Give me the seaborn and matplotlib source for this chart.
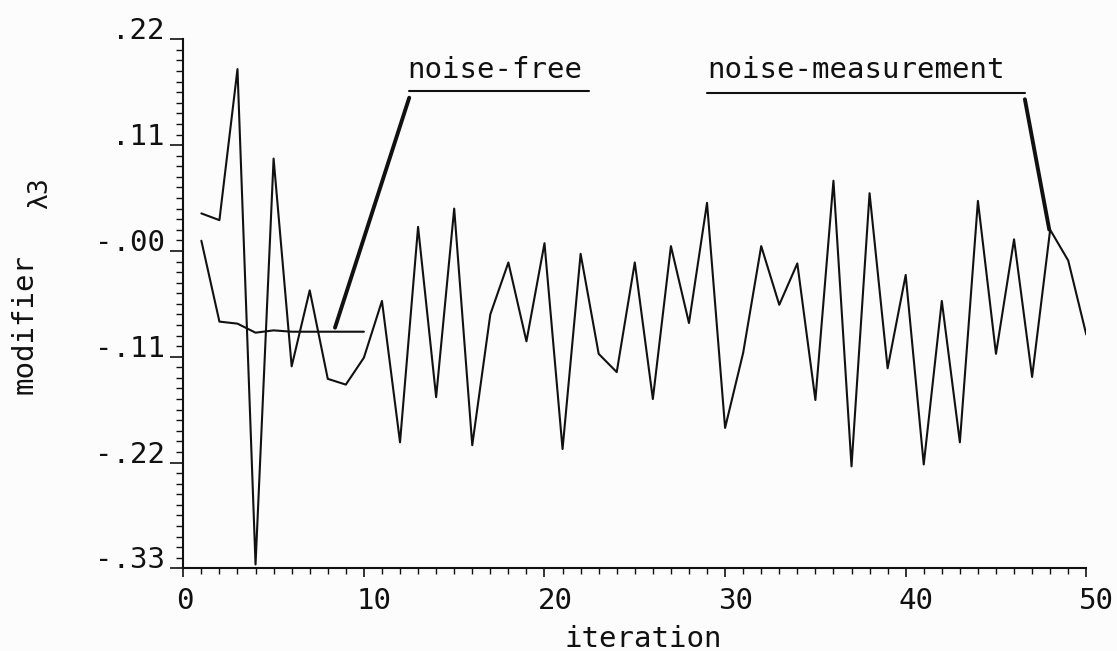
import matplotlib
matplotlib.use("Agg")
import matplotlib.pyplot as plt
import matplotlib.transforms as mtransforms
from matplotlib.ticker import MultipleLocator
import numpy as np
import pandas as pd
import seaborn as sns

# ---------------- data ----------------
iterations_free = list(range(1, 11))
noise_free = [0.0106, -0.0735, -0.0756, -0.085, -0.0826,
              -0.084, -0.084, -0.084, -0.084, -0.084]

iterations_meas = list(range(1, 51))
noise_meas = [0.039, 0.032, 0.189, -0.326, 0.096, -0.120, -0.041, -0.133, -0.139, -0.111,
              -0.052, -0.199, 0.025, -0.152, 0.044, -0.202, -0.066, -0.012, -0.094, 0.008,
              -0.206, -0.003, -0.107, -0.126, -0.012, -0.154, 0.005, -0.075, 0.050, -0.184,
              -0.106, 0.005, -0.056, -0.013, -0.155, 0.073, -0.224, 0.060, -0.122, -0.025,
              -0.222, -0.052, -0.199, 0.052, -0.107, 0.012, -0.131, 0.022, -0.010, -0.087]

x_ticks = [0, 10, 20, 30, 40, 50]
x_tick_labels = ["0", "10", "20", "30", "40", "50"]
y_ticks = [0.22, 0.11, 0.0, -0.11, -0.22, -0.33]
y_tick_labels = [".22", ".11", "-.00", "-.11", "-.22", "-.33"]

label_free = "noise-free"
label_meas = "noise-measurement"
x_label = "iteration"
y_label = "modifier"
y_label_sub = "λ3"

# annotation geometry (data coordinates): text anchor, underline, leader line
annot = {
    label_free: dict(text=(12.39, 0.1802), under=((12.51, 22.48), 0.1663),
                     leader=((8.40, 12.51), (-0.0798, 0.1593))),
    label_meas: dict(text=(29.03, 0.1802), under=((29.0, 46.6), 0.1645),
                     leader=((46.6, 47.95), (0.1577, 0.0221))),
}

# ---------------- style ----------------
sns.set_theme(style="ticks")
plt.rcParams["font.family"] = ["DejaVu Sans Mono", "DejaVu Sans"]
ink = "#111111"
paper = "#fcfcfc"
fs = 21

fig = plt.figure(figsize=(11.17, 6.51), dpi=100, facecolor=paper)
ax = fig.add_axes([0.1641, 0.127, 0.8084, 0.8126])
ax.set_facecolor(paper)

df_meas = pd.DataFrame({"iteration": iterations_meas, "value": noise_meas})
df_free = pd.DataFrame({"iteration": iterations_free, "value": noise_free})
sns.lineplot(data=df_meas, x="iteration", y="value", ax=ax, color=ink, linewidth=1.5)
sns.lineplot(data=df_free, x="iteration", y="value", ax=ax, color=ink, linewidth=1.5)

ax.set_xlim(0, 50)
ax.set_ylim(-0.33, 0.22)

ax.set_xticks(x_ticks, x_tick_labels)
ax.set_yticks(y_ticks, y_tick_labels)
ax.xaxis.set_minor_locator(MultipleLocator(1))
ax.yaxis.set_minor_locator(MultipleLocator(0.011))

ax.tick_params(axis="y", which="major", direction="out", length=9.4, width=1.2,
               pad=4, labelsize=fs, colors=ink)
ax.tick_params(axis="y", which="minor", direction="out", length=5, width=1.0, colors=ink)
ax.tick_params(axis="x", which="major", direction="out", length=6.5, width=1.2,
               pad=7, labelsize=fs, colors=ink)
ax.tick_params(axis="x", which="minor", direction="out", length=4.3, width=1.0, colors=ink)

for lab in ax.get_yticklabels():
    lab.set_verticalalignment("baseline")
shift = mtransforms.ScaledTranslation(-7 / 100, 0, fig.dpi_scale_trans)
for lab in ax.get_xticklabels():
    lab.set_horizontalalignment("left")
    lab.set_transform(lab.get_transform() + shift)

sns.despine(ax=ax)
for side in ("left", "bottom"):
    ax.spines[side].set_linewidth(1.5)
    ax.spines[side].set_color(ink)

ax.set_xlabel(x_label, fontsize=fs, color=ink)
ax.set_ylabel(y_label, fontsize=fs, color=ink)
ax.xaxis.set_label_coords(0.509, -0.107)
ax.yaxis.set_label_coords(-0.160, 0.462)
ax.text(-0.1585, 0.7095, y_label_sub, transform=ax.transAxes, rotation=90,
        ha="center", va="center", fontsize=19, color=ink, clip_on=False)

for name, g in annot.items():
    ax.text(g["text"][0], g["text"][1], name, fontsize=fs, ha="left", va="baseline", color=ink)
    (ux0, ux1), uy = g["under"]
    ax.plot([ux0, ux1], [uy, uy], color=ink, linewidth=1.5)
    lx, ly = g["leader"]
    ax.plot(lx, ly, color=ink, linewidth=2.8, solid_capstyle="round")

fig.savefig("out.png", dpi=100, facecolor=paper)
